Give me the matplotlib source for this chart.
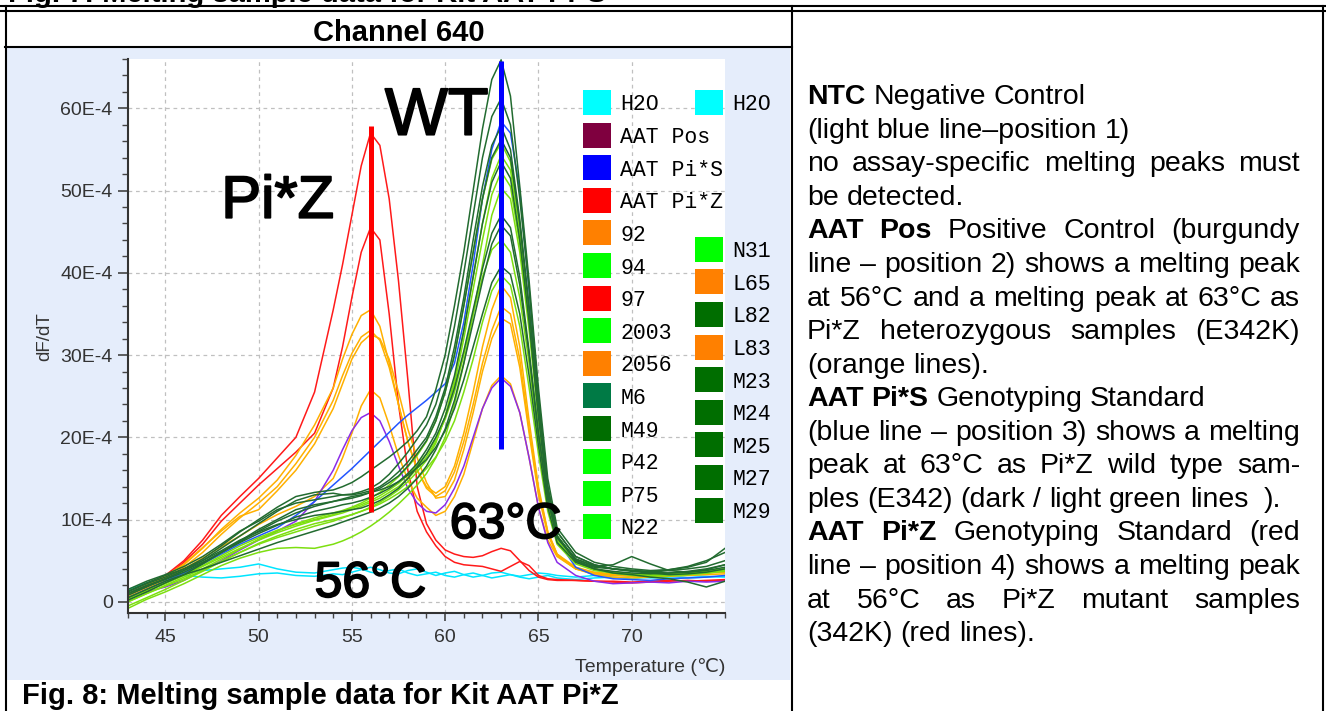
import matplotlib
matplotlib.use('Agg')
import matplotlib.pyplot as plt
import matplotlib.patheffects as pe
from matplotlib.lines import Line2D
from matplotlib.patches import Rectangle
from matplotlib.ticker import FixedLocator, MultipleLocator, FuncFormatter

plt.rcParams['font.family'] = ['Liberation Sans', 'DejaVu Sans']

W, H = 1326, 711

# temperature grid (deg C)
temps = [43, 44, 45, 46, 47, 48, 49, 50, 51, 52, 53, 54,
         54.5, 55, 55.5, 56, 56.5, 57, 57.5, 58, 58.5, 59, 59.5, 60,
         60.5, 61, 61.5, 62, 62.5, 63, 63.5, 64, 64.5, 65, 65.5, 66,
         67, 68, 69, 70, 71, 72, 73, 74, 75]

# dF/dT in units of 1E-4
h2o_1 = [1.5, 2.3, 3.0, 3.5, 3.8, 4.0, 4.2, 4.6, 4.0, 3.6, 3.5, 3.9,
         4.1, 4.2, 4.0, 3.6, 3.4, 3.8, 4.0, 3.5, 3.2, 3.4, 3.6, 3.2,
         3.0, 3.3, 3.5, 3.2, 2.9, 3.1, 3.3, 3.0, 2.8, 3.0, 3.2, 2.9,
         2.7, 2.9, 3.0, 2.8, 3.0, 3.1, 2.9, 3.0, 3.1]
h2o_2 = [1.0, 2.0, 2.8, 3.2, 3.0, 2.9, 3.1, 3.4, 3.5, 3.2, 3.1, 3.4,
         3.3, 3.6, 3.9, 4.2, 3.9, 3.5, 3.4, 3.8, 4.0, 3.6, 3.2, 3.5,
         3.7, 3.3, 3.0, 3.2, 3.5, 3.6, 3.3, 3.1, 3.3, 3.5, 3.4, 3.2,
         3.0, 3.2, 3.3, 3.1, 2.9, 3.0, 3.2, 3.1, 3.0]
aat_pos = [0.5, 1.2, 1.8, 2.6, 3.8, 5.0, 6.3, 7.5, 8.6, 9.8, 12.2, 16.0,
           18.5, 20.8, 22.4, 23.0, 22.0, 19.5, 16.5, 13.8, 12.0, 11.0, 10.8, 11.8,
           13.8, 16.5, 20.0, 23.5, 26.0, 27.2, 26.2, 23.0, 17.5, 11.5, 7.2, 4.8,
           3.2, 2.5, 2.2, 2.3, 2.4, 2.3, 2.5, 2.4, 2.5]
aat_pi_s = [0.5, 1.5, 2.5, 3.5, 4.6, 5.8, 7.0, 8.0, 9.0, 10.5, 12.2, 14.2,
            15.2, 16.2, 17.3, 18.4, 19.5, 20.6, 21.7, 22.7, 23.6, 24.5, 25.5, 26.5,
            29.0, 34.0, 41.0, 49.0, 55.0, 58.4, 57.0, 50.0, 38.0, 25.0, 13.5, 7.5,
            4.2, 3.2, 2.8, 2.7, 2.6, 2.8, 2.9, 3.0, 3.2]
aat_pi_z = [1.0, 2.0, 3.2, 5.0, 7.5, 10.5, 12.8, 15.0, 17.5, 20.0, 25.5, 35.5,
            41.0, 47.0, 53.0, 57.0, 55.5, 49.0, 39.0, 27.0, 14.0, 9.5, 7.5, 6.3,
            5.8, 5.5, 5.4, 5.6, 6.1, 6.5, 6.2, 5.0, 3.8, 3.0, 2.7, 2.6,
            2.6, 2.5, 2.4, 2.3, 2.4, 2.5, 2.6, 2.5, 2.6]
s97 = [0.8, 1.8, 3.0, 4.8, 7.0, 9.8, 12.0, 14.2, 16.2, 18.2, 20.5, 26.0,
       31.0, 37.0, 42.5, 45.5, 44.0, 35.0, 24.0, 16.0, 11.0, 8.5, 6.8, 5.5,
       4.8, 4.5, 4.4, 4.3, 4.0, 3.7, 4.3, 4.9, 4.4, 3.2, 2.8, 2.7,
       2.6, 2.5, 2.5, 2.4, 2.5, 2.6, 2.5, 2.6, 2.7]
s92 = [0.8, 1.9, 3.0, 4.5, 6.5, 8.8, 10.8, 12.6, 14.8, 17.8, 21.5, 26.0,
       29.5, 32.5, 34.8, 35.5, 33.5, 29.0, 24.0, 19.5, 16.0, 14.0, 13.2, 14.0,
       16.5, 20.5, 25.5, 31.0, 35.5, 38.5, 37.0, 31.0, 22.0, 14.0, 8.5, 5.8,
       4.2, 3.6, 3.4, 3.3, 3.3, 3.4, 3.5, 3.6, 3.8]
s2056 = [0.6, 1.6, 2.8, 4.2, 6.0, 8.2, 10.2, 12.0, 14.0, 16.8, 20.0, 24.5,
         27.5, 30.2, 32.2, 33.0, 31.8, 28.5, 24.0, 19.5, 16.0, 13.8, 12.8, 13.5,
         15.8, 19.5, 24.0, 29.0, 33.0, 35.9, 35.0, 29.5, 21.0, 13.5, 8.5, 5.8,
         4.0, 3.5, 3.3, 3.2, 3.3, 3.3, 3.4, 3.5, 3.7]
l65 = [0.9, 2.0, 3.1, 4.6, 6.6, 8.6, 10.4, 11.2, 13.5, 16.0, 19.2, 23.5,
       26.5, 29.5, 31.5, 32.5, 32.0, 29.5, 25.5, 21.0, 17.5, 14.5, 12.6, 12.8,
       14.8, 18.5, 23.0, 28.0, 32.0, 34.5, 33.8, 28.5, 20.5, 13.0, 8.2, 5.6,
       4.0, 3.4, 3.2, 3.1, 3.2, 3.3, 3.4, 3.5, 3.6]
l83 = [0.5, 1.5, 2.7, 4.0, 5.3, 6.7, 8.0, 9.4, 10.6, 11.6, 12.8, 15.0,
       17.5, 20.5, 23.8, 25.8, 24.8, 21.5, 17.8, 14.8, 12.6, 11.5, 10.5, 11.0,
       12.8, 15.5, 19.5, 23.5, 26.3, 27.5, 26.5, 23.0, 17.5, 11.5, 7.5, 5.5,
       4.0, 3.3, 3.0, 2.9, 3.0, 3.1, 3.2, 3.3, 3.4]
m6 = [1.2, 2.2, 3.0, 4.0, 5.2, 6.8, 8.5, 10.0, 11.5, 12.8, 13.3, 13.6,
      14.0, 14.5, 15.2, 16.0, 16.8, 17.6, 18.5, 19.5, 20.8, 22.5, 25.8, 30.0,
      36.0, 42.5, 50.0, 57.5, 63.5, 65.9, 61.5, 50.5, 39.0, 26.0, 15.0, 9.0,
      6.0, 4.8, 4.3, 4.0, 3.8, 3.9, 4.2, 4.8, 6.5]
m49 = [0.8, 1.8, 2.8, 3.8, 5.0, 6.5, 8.0, 9.5, 11.0, 12.3, 13.0, 13.2,
       13.0, 13.1, 13.4, 13.8, 14.5, 15.5, 16.8, 18.2, 19.8, 21.5, 24.0, 28.0,
       33.5, 40.0, 47.0, 54.0, 59.0, 61.2, 58.0, 49.0, 38.0, 25.0, 14.0, 8.5,
       5.5, 4.5, 4.0, 3.8, 3.6, 3.8, 4.0, 4.3, 5.0]
l82 = [1.5, 2.5, 3.3, 4.3, 5.5, 7.0, 8.6, 9.8, 11.2, 12.0, 12.4, 12.8,
       13.0, 13.0, 13.2, 13.5, 14.0, 14.8, 15.8, 17.0, 18.5, 20.0, 22.5, 26.0,
       31.0, 37.0, 44.0, 50.5, 55.5, 57.8, 55.0, 46.5, 36.0, 24.0, 13.5, 8.0,
       5.2, 4.3, 4.5, 5.5, 4.6, 3.8, 3.6, 3.9, 4.5]
m23 = [0.2, 1.2, 2.3, 3.3, 4.6, 6.0, 7.4, 8.8, 10.0, 11.2, 11.8, 12.2,
       12.4, 12.6, 12.9, 13.3, 13.8, 14.5, 15.3, 16.5, 18.0, 19.6, 22.0, 25.5,
       30.0, 36.0, 42.5, 49.0, 54.0, 56.2, 54.0, 46.0, 35.5, 24.0, 14.0, 8.5,
       5.5, 4.5, 4.0, 3.7, 3.5, 3.3, 3.4, 3.6, 4.0]
m24 = [1.0, 2.0, 2.8, 3.8, 4.8, 6.0, 7.2, 8.3, 9.3, 10.3, 11.0, 11.5,
       11.8, 12.0, 12.3, 12.7, 13.2, 13.8, 14.6, 15.6, 16.8, 18.5, 20.5, 23.5,
       27.5, 33.0, 39.5, 46.0, 51.0, 53.5, 51.5, 44.0, 34.0, 22.5, 13.0, 8.0,
       5.0, 4.0, 3.5, 3.3, 3.0, 2.8, 2.4, 1.8, 2.5]
m25 = [1.3, 2.3, 3.2, 4.0, 5.0, 6.2, 7.5, 8.5, 9.4, 10.0, 10.5, 10.8,
       11.0, 11.2, 11.4, 11.8, 12.3, 13.0, 13.8, 15.0, 16.4, 18.0, 20.0, 22.5,
       26.0, 30.5, 35.5, 40.5, 44.8, 47.0, 45.5, 39.5, 30.5, 20.5, 12.5, 7.8,
       5.0, 4.2, 4.0, 3.8, 3.7, 3.9, 4.3, 5.0, 6.0]
m27 = [0.5, 1.5, 2.5, 3.3, 4.0, 4.8, 5.6, 6.4, 7.2, 7.9, 8.6, 9.3,
       9.7, 10.1, 10.5, 10.9, 11.4, 12.0, 12.8, 13.8, 15.0, 16.5, 18.5, 21.0,
       24.5, 29.0, 34.0, 39.0, 43.5, 45.8, 44.5, 38.5, 30.0, 20.5, 12.5, 7.8,
       5.2, 4.4, 4.0, 3.8, 3.6, 3.5, 3.6, 3.8, 4.2]
m29 = [1.0, 1.9, 2.7, 3.6, 4.7, 6.0, 7.3, 8.6, 9.8, 10.8, 11.6, 12.2,
       12.5, 12.8, 13.0, 13.3, 13.6, 14.0, 14.6, 15.4, 16.3, 17.3, 18.8, 20.8,
       23.5, 27.0, 31.0, 35.0, 38.8, 40.8, 39.8, 35.0, 27.5, 19.0, 11.5, 7.2,
       4.8, 4.0, 3.7, 3.5, 3.4, 3.5, 3.7, 4.0, 4.5]
s94 = [0.0, 1.0, 2.0, 3.0, 4.0, 5.2, 6.4, 7.6, 8.6, 9.5, 10.2, 10.8,
       11.1, 11.5, 12.0, 12.6, 13.3, 14.2, 15.2, 16.4, 17.8, 19.5, 22.0, 25.5,
       30.0, 36.0, 42.5, 49.0, 53.8, 55.8, 53.5, 45.5, 35.0, 23.5, 13.5, 8.0,
       5.0, 4.0, 3.5, 3.3, 3.2, 3.3, 3.5, 3.8, 4.0]
s2003 = [-0.5, 0.5, 1.5, 2.6, 3.7, 4.9, 6.0, 7.0, 7.8, 8.5, 9.2, 9.8,
         10.2, 10.6, 11.0, 11.5, 12.1, 12.8, 13.6, 14.6, 15.8, 17.2, 19.3, 22.5,
         27.0, 33.0, 39.5, 46.0, 51.5, 54.3, 52.5, 45.0, 35.0, 23.5, 13.5, 8.0,
         5.0, 4.0, 3.6, 3.4, 3.3, 3.3, 3.4, 3.6, 3.8]
p42 = [0.3, 1.3, 2.2, 3.2, 4.3, 5.4, 6.5, 7.5, 8.4, 9.2, 9.9, 10.5,
       10.8, 11.2, 11.6, 12.1, 12.6, 13.3, 14.0, 15.0, 16.2, 17.6, 19.5, 22.5,
       26.5, 32.0, 38.0, 44.0, 49.5, 52.3, 50.5, 43.5, 34.0, 23.0, 13.5, 8.0,
       5.0, 4.0, 3.5, 3.2, 3.1, 3.2, 3.3, 3.5, 3.7]
p75 = [-0.8, 0.3, 1.2, 2.2, 3.3, 4.4, 5.3, 6.0, 6.5, 6.6, 6.5, 7.0,
       7.4, 7.9, 8.5, 9.2, 10.0, 10.9, 11.9, 13.0, 14.2, 15.6, 17.5, 20.0,
       24.0, 29.0, 35.0, 41.0, 47.0, 50.3, 49.0, 42.5, 33.0, 22.0, 13.0, 7.8,
       5.0, 4.0, 3.5, 3.3, 3.2, 3.2, 3.3, 3.5, 3.8]
n22 = [0.5, 1.4, 2.3, 3.3, 4.4, 5.6, 6.8, 7.8, 8.7, 9.4, 10.0, 10.6,
       11.0, 11.4, 11.8, 12.3, 12.9, 13.6, 14.4, 15.4, 16.6, 18.0, 19.8, 22.2,
       25.5, 30.0, 35.0, 39.5, 42.8, 44.0, 42.5, 37.0, 29.0, 19.5, 12.0, 7.5,
       4.8, 3.9, 3.6, 3.4, 3.3, 3.4, 3.5, 3.7, 4.0]
n31 = [0.0, 1.0, 1.9, 2.8, 3.8, 4.9, 6.0, 7.1, 8.0, 8.8, 9.5, 10.0,
       10.3, 10.6, 11.0, 11.4, 11.9, 12.5, 13.2, 14.0, 15.0, 16.2, 17.6, 19.5,
       22.0, 25.5, 29.5, 34.0, 37.8, 39.7, 38.5, 33.5, 26.0, 18.0, 11.0, 7.0,
       4.6, 3.8, 3.5, 3.3, 3.2, 3.3, 3.4, 3.6, 3.9]

# peak markers drawn over the curves
marker_t = [56, 63]
marker_lo = [10.9, 18.6]
marker_hi = [57.8, 65.8]
marker_colors = ['#ff0000', '#0000ff']

# legend, two columns (second column offset by half a row)
legend_left = ['H2O', 'AAT Pos', 'AAT Pi*S', 'AAT Pi*Z', '92', '94', '97',
               '2003', '2056', 'M6', 'M49', 'P42', 'P75', 'N22']
legend_left_colors = ['#00ffff', '#7f003f', '#0000ff', '#ff0000', '#ff8000',
                      '#00ff00', '#ff0000', '#00ff00', '#ff8000', '#007a45',
                      '#006e00', '#00ff00', '#00ff00', '#00ff00']
legend_right = ['H2O', 'N31', 'L65', 'L82', 'L83', 'M23', 'M24', 'M25', 'M27', 'M29']
legend_right_rows = [0, 4.5, 5.5, 6.5, 7.5, 8.5, 9.5, 10.5, 11.5, 12.5]
legend_right_colors = ['#00ffff', '#00ff00', '#ff8000', '#006e00', '#ff8000',
                       '#006e00', '#006e00', '#006e00', '#006e00', '#006e00']

note_lines = [
    "§NTC Negative Control",
    "(light blue line\u2013position 1)",
    "no assay-specific melting peaks must",
    "be detected.",
    "§AAT §Pos Positive Control (burgundy",
    "line \u2013 position 2) shows a melting peak",
    "at 56°C and a melting peak at 63°C as",
    "Pi*Z heterozygous samples (E342K)",
    "(orange lines).",
    "§AAT §Pi*S Genotyping Standard",
    "(blue line \u2013 position 3) shows a melting",
    "peak at 63°C as Pi*Z wild type sam-",
    "ples (E342) (dark / light green lines  ).",
    "§AAT §Pi*Z Genotyping Standard (red",
    "line \u2013 position 4) shows a melting peak",
    "at 56°C as Pi*Z mutant samples",
    "(342K) (red lines).",
]
note_justified = [0, 0, 1, 0, 1, 1, 1, 1, 0, 0, 1, 1, 0, 1, 1, 1, 0]

LINE_CYAN = '#00e5ff'
LINE_RED = '#ff1a1a'
LINE_ORANGE = '#ffb000'
LINE_PURPLE = '#8b2be8'
LINE_BLUE = '#2255ff'
LINE_LIME = '#7ddf10'
LINE_DARK = '#226b30'


def fx(x):
    return x / W


def fy(y):
    return 1 - y / H


fig = plt.figure(figsize=(W / 100, H / 100), dpi=100)

# light blue panel behind the chart
fig.add_artist(Rectangle((fx(7), fy(680)), fx(790) - fx(7), fy(48) - fy(680),
                         transform=fig.transFigure, facecolor='#e5edfb',
                         edgecolor='none', zorder=-1))

ax = fig.add_axes([fx(128), fy(613.3), fx(725) - fx(128), fy(59) - fy(613.3)])
ax.set_facecolor('white')

for vals in [h2o_1, h2o_2]:
    ax.plot(temps, vals, color=LINE_CYAN, lw=1.1)
for vals in [aat_pi_z, s97]:
    ax.plot(temps, vals, color=LINE_RED, lw=1.1)
for vals in [s92, s2056, l65, l83]:
    ax.plot(temps, vals, color=LINE_ORANGE, lw=1.1)
ax.plot(temps, aat_pos, color=LINE_PURPLE, lw=1.1)
ax.plot(temps, aat_pi_s, color=LINE_BLUE, lw=1.1)
for vals in [s94, s2003, p42, p75, n22, n31]:
    ax.plot(temps, vals, color=LINE_LIME, lw=1.1)
for vals in [m6, m49, l82, m23, m24, m25, m27, m29]:
    ax.plot(temps, vals, color=LINE_DARK, lw=1.1)

ax.vlines(marker_t, marker_lo, marker_hi, colors=marker_colors, lw=3.6, zorder=4)

# heavy black annotations
heavy = [pe.withStroke(linewidth=1.3, foreground='black')]
ax.text(56.77, 56.8, 'WT', fontsize=48, zorder=5, path_effects=heavy)
ax.text(48.0, 46.7, 'Pi*Z', fontsize=43, zorder=5, path_effects=heavy)
ax.text(60.25, 7.75, '63°C', fontsize=36, zorder=5, path_effects=heavy)
ax.text(53.0, 0.6, '56°C', fontsize=36, zorder=5, path_effects=heavy)

ax.set_xlim(43, 75)
ax.set_ylim(-1.4, 66)
ax.xaxis.set_major_locator(FixedLocator([45, 50, 55, 60, 65, 70]))
ax.xaxis.set_minor_locator(MultipleLocator(1))
ax.yaxis.set_major_locator(FixedLocator([0, 10, 20, 30, 40, 50, 60]))
ax.yaxis.set_minor_locator(MultipleLocator(2))
ax.yaxis.set_major_formatter(FuncFormatter(
    lambda v, _: '0' if v == 0 else '{}E-4'.format(int(round(v)))))
ax.grid(True, which='major', color='#c0c0c0', linestyle=(0, (3, 3)), lw=0.9)
ax.set_axisbelow(True)
for side in ['top', 'right']:
    ax.spines[side].set_visible(False)
for side in ['left', 'bottom']:
    ax.spines[side].set_color('#333333')
    ax.spines[side].set_linewidth(1.5)
ax.tick_params(which='both', direction='out', colors='#444444', labelsize=14,
               labelcolor='#333333')
ax.tick_params(axis='y', which='major', length=7, width=1.2, pad=4)
ax.tick_params(axis='y', which='minor', length=4.5, width=1.0)
ax.tick_params(axis='x', which='major', length=6, width=1.2, pad=5)
ax.tick_params(axis='x', which='minor', length=3.6, width=1.0)

fig.text(fx(45), fy(337), 'dF/dT', rotation=90, fontsize=13.5, color='#333333',
         ha='center', va='center')
fig.text(fx(725), fy(667), 'Temperature (\u2103)', fontsize=14, color='#333333',
         ha='right', va='center')


# legend swatches
def swatch(x, yc, color, label):
    fig.add_artist(Rectangle((fx(x), fy(yc + 12.5)), 27.5 / W, 25 / H,
                             transform=fig.transFigure, facecolor=color,
                             edgecolor='none', zorder=3))
    fig.text(fx(x + 37.5), fy(yc), label, family='Liberation Mono',
             fontsize=15.5, ha='left', va='center_baseline', zorder=4)


for i, (lab, col) in enumerate(zip(legend_left, legend_left_colors)):
    swatch(583, 102.5 + 32.6 * i, col, lab)
for row, lab, col in zip(legend_right_rows, legend_right, legend_right_colors):
    swatch(695, 102.5 + 32.6 * row, col, lab)


# table frame
def hline(y, x0, x1):
    fig.add_artist(Line2D([fx(x0), fx(x1)], [fy(y), fy(y)],
                          transform=fig.transFigure, color='black', lw=1.5))


def vline(x, y0, y1):
    fig.add_artist(Line2D([fx(x), fx(x)], [fy(y0), fy(y1)],
                          transform=fig.transFigure, color='black', lw=1.5))


hline(6, 0, W)
hline(11, 0, W)
hline(46.7, 5, 792)
vline(5.5, 6, H)
vline(791.5, 6, H)
vline(1323, 6, H)

# caption of the table row above, mostly outside the page crop
fig.text(fx(8), fy(1.5), 'Fig. 7: Melting sample data for Kit AAT Pi*S',
         fontsize=21, fontweight='bold', va='baseline')
fig.text(fx(399), fy(41), 'Channel 640', fontsize=21, fontweight='bold',
         ha='center', va='baseline')
fig.text(fx(22), fy(704), 'Fig. 8: Melting sample data for Kit AAT Pi*Z',
         fontsize=21, fontweight='bold', va='baseline')

# justified description text in the right cell
NOTE_SIZE = 20.5
NOTE_LEFT, NOTE_RIGHT = 807, 1300
renderer = fig.canvas.get_renderer()


def text_width(s, bold):
    t = fig.text(0, 0, s, fontsize=NOTE_SIZE,
                 fontweight='bold' if bold else 'normal')
    w = t.get_window_extent(renderer).width
    t.remove()
    return w


space_w = text_width('a a', False) - text_width('aa', False)
for k, (line, just) in enumerate(zip(note_lines, note_justified)):
    words = [(w.lstrip('§'), w.startswith('§')) for w in line.split(' ')]
    widths = [text_width(w, b) if w else 0 for w, b in words]
    if just:
        gap = (NOTE_RIGHT - NOTE_LEFT - sum(widths)) / (len(words) - 1)
    else:
        gap = space_w
    x = NOTE_LEFT
    y = 104.3 + k * 33.55
    for (w, b), wd in zip(words, widths):
        if w:
            fig.text(fx(x), fy(y), w, fontsize=NOTE_SIZE,
                     fontweight='bold' if b else 'normal', va='baseline')
        x += wd + gap

fig.savefig('out.png', dpi=100)
